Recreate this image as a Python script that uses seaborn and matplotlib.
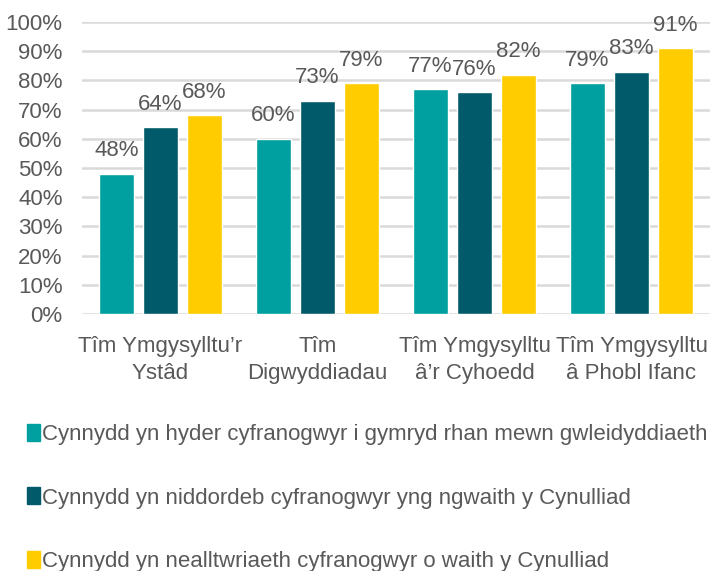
import pandas as pd
import matplotlib
matplotlib.use('Agg')
import matplotlib.pyplot as plt
import seaborn as sns

# chart values
teams = ['Tîm Ymgysylltu’r\nYstâd', 'Tîm\nDigwyddiadau', 'Tîm Ymgysylltu\nâ’r Cyhoedd', 'Tîm Ymgysylltu\nâ Phobl Ifanc']
series = [
    'Cynnydd yn hyder cyfranogwyr i gymryd rhan mewn gwleidyddiaeth',
    'Cynnydd yn niddordeb cyfranogwyr yng ngwaith y Cynulliad',
    'Cynnydd yn nealltwriaeth cyfranogwyr o waith y Cynulliad',
]
hyder = [48, 60, 77, 79]
diddordeb = [64, 73, 76, 83]
dealltwriaeth = [68, 79, 82, 91]
colours = ['#00A0A0', '#005A69', '#FFCC00']

rows = []
for s, vals in zip(series, [hyder, diddordeb, dealltwriaeth]):
    for t, v in zip(teams, vals):
        rows.append({'team': t, 'series': s, 'value': v})
df = pd.DataFrame(rows)

sns.set_theme(style="white")
plt.rcParams['font.family'] = ['Liberation Sans', 'DejaVu Sans']
text_col = '#595959'
fs = 16

fig = plt.figure(figsize=(7.1, 5.71), dpi=100)
ax = fig.add_axes([0.1155, 0.45, 0.8845, 0.5115])

sns.barplot(data=df, x='team', y='value', hue='series', palette=colours,
            width=0.84, gap=0.2, ax=ax, legend=False, saturation=1)

for c in ax.containers:
    ax.bar_label(c, fmt='%.0f%%', padding=9, fontsize=fs, color=text_col)

ax.set_ylim(0, 100)
ax.set_yticks(range(0, 101, 10))
ax.set_yticklabels([f'{v}%' for v in range(0, 101, 10)])
ax.yaxis.grid(True, color='#D9D9D9', linewidth=1.8)
ax.set_axisbelow(True)
for sp in ax.spines.values():
    sp.set_visible(False)
ax.tick_params(axis='y', length=0, pad=14, labelsize=fs, labelcolor=text_col)
ax.tick_params(axis='x', length=0, pad=16, labelsize=fs, labelcolor=text_col)
for lbl in ax.get_xticklabels():
    lbl.set_linespacing(1.35)
ax.set_xlabel('')
ax.set_ylabel('')

handles = [plt.Rectangle((0, 0), 1, 1, color=c) for c in colours]
fig.legend(handles, series, loc='center left', bbox_to_anchor=(0.026, 0.128),
           frameon=False, fontsize=fs, labelcolor=text_col, handlelength=0.55,
           handleheight=0.8, handletextpad=0.1, labelspacing=1.9, borderaxespad=0)

fig.savefig('out.png', dpi=100)
